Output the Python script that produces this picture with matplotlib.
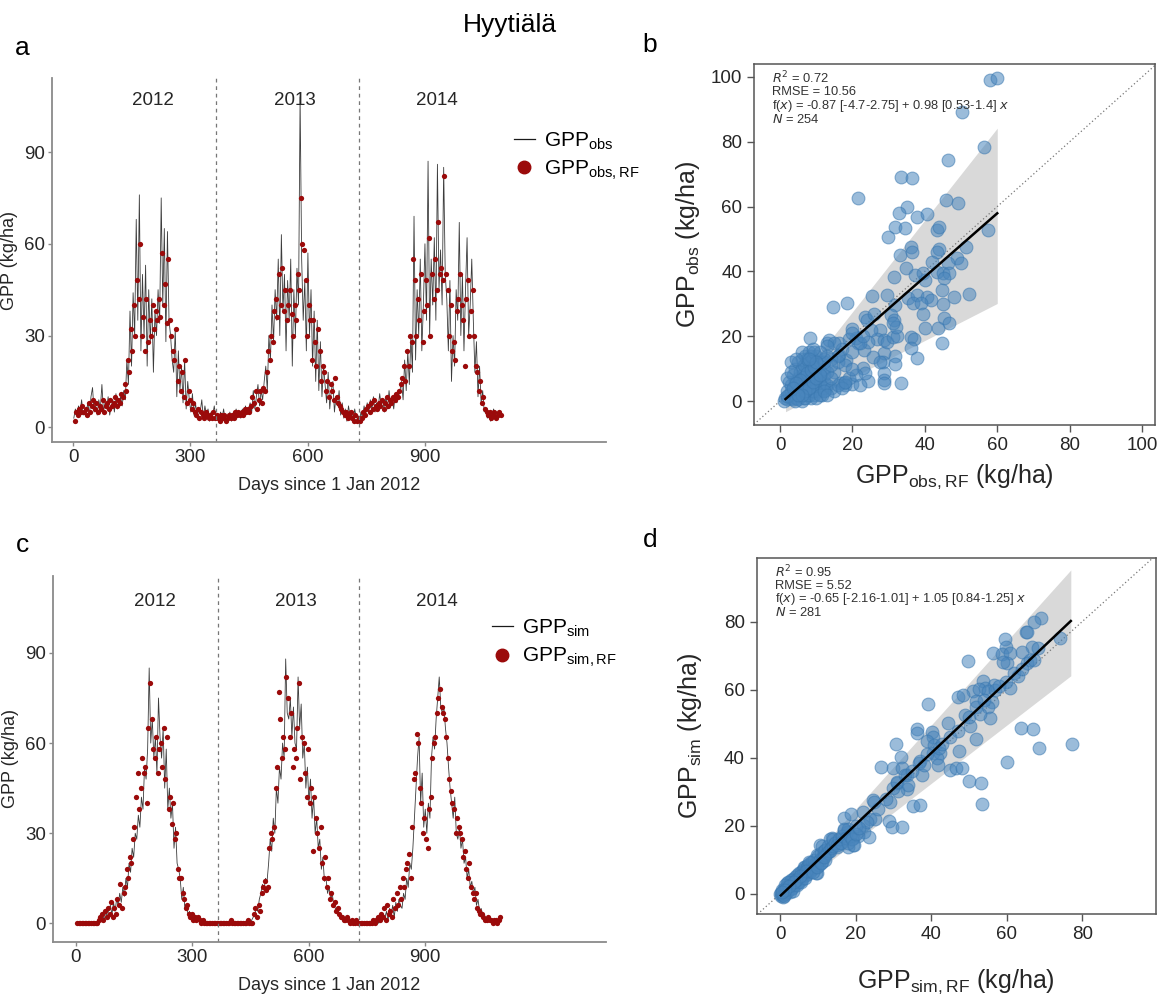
import numpy as np
import matplotlib
matplotlib.use("Agg")
import matplotlib.pyplot as plt
from matplotlib.lines import Line2D

plt.rcParams['font.family'] = ['Liberation Sans', 'DejaVu Sans']
plt.rcParams['mathtext.default'] = 'regular'

# ---------------- data ----------------
# daily series sampled every 4 days (line) and offset by 2 days (RF dots)
gpp_obs = [3, 6, 4, 7, 5, 9, 4, 6, 5, 8, 4, 10, 13, 5, 7, 4, 9, 6, 14, 5, 8, 6, 10, 4, 7, 9, 5, 11, 6, 8, 10,
           7, 12, 9, 22, 14, 38, 20, 44, 30, 68,
           35, 76, 25, 50, 30, 53, 20, 45, 28, 42, 18, 38, 30,
           45, 34, 75, 40, 65, 28, 64, 35, 30, 22, 18, 32, 10,
           25, 12, 20, 8, 22, 6, 15, 9, 5, 11,
           4, 8, 3, 6, 5, 9, 3, 7, 4, 6, 2, 5, 4, 7, 3,
           4, 2, 5, 3, 6, 2, 4, 3, 5, 2, 4, 3, 6, 4, 5, 3, 6, 4, 7, 5, 6,
           8, 5, 12, 6, 10, 14, 7, 12, 9, 15,
           20, 12, 30, 22, 40, 28, 45, 35,
           55, 30, 63, 38, 50, 25, 48, 35, 55, 20,
           45, 30, 52, 40, 108,
           55, 35, 48, 25, 57, 30, 45,
           20, 38, 15, 35, 12, 28, 10, 20,
           14, 8, 18, 6, 12, 15, 5, 10, 7, 12,
           4, 8, 3, 6, 2, 7, 4, 5, 2, 6, 3, 4,
           2, 5, 3, 7, 4, 8, 5, 9, 6, 10, 5, 8, 6, 11, 7, 9, 5, 10, 6, 12, 7, 9, 6, 11, 8, 10, 12,
           15, 9, 22, 12, 25, 14, 30, 18,
           69, 22, 45, 30, 55, 25, 40, 60,
           35, 87, 30, 55, 40, 62, 35, 86, 45, 58, 40,
           85, 50, 42, 25, 48, 15, 30, 20, 45, 35,
           67, 30, 50, 25, 45, 62, 30, 40, 55,
           35, 18, 28, 10, 20, 8, 12, 5,
           6, 3, 5, 2, 4, 6, 3, 5, 4, 5]

gpp_obs_rf = [2, 5, 4, 6, 5, 7, 5, 6, 4, 8, 5, 7, 9, 6, 8, 5, 7, 6, 9, 5, 7, 8, 6, 9, 7, 8, 10, 7, 9, 8, 11,
              10, 14, 12, 22, 18, 32, 25, 40, 30, 48,
              42, 60, 30, 36, 25, 42, 28, 35, 30, 40, 32, 38, 35,
              42, 36, 57, 40, 47, 34, 55, 35, 30, 25, 22, 32, 15,
              20, 12, 18, 10, 22, 8, 12, 9, 6, 8,
              5, 4, 6, 3, 5, 4, 3, 5, 4, 3, 4, 3, 5, 3, 4,
              3, 2, 4, 3, 4, 2, 3, 4, 3, 4, 3, 5, 4, 5, 4, 5, 4, 6, 5, 6, 5,
              7, 10, 8, 12, 6, 9, 12, 8, 13, 12,
              18, 25, 22, 30, 28, 38, 42, 36,
              50, 40, 52, 38, 45, 35, 40, 45, 37, 30,
              40, 35, 50, 45, 75,
              60, 58, 48, 30, 40, 35, 22,
              35, 28, 20, 32, 25, 15, 20, 18,
              12, 15, 10, 14, 12, 9, 16, 10, 8, 7,
              6, 5, 4, 5, 3, 4, 5, 3, 2, 4, 2, 3,
              2, 3, 5, 4, 6, 7, 5, 8, 6, 9, 7, 6, 8, 7, 9, 6, 8, 10, 7, 9, 8, 10, 9, 11, 10, 12, 14,
              16, 20, 15, 25, 20, 30, 28, 55,
              48, 30, 42, 35, 50, 28, 38, 48,
              40, 62, 30, 50, 42, 55, 45, 67, 50, 52, 48,
              82, 50, 45, 30, 40, 25, 28, 22, 38, 42,
              50, 40, 35, 20, 42, 48, 30, 38, 45,
              30, 20, 18, 12, 15, 8, 10, 6,
              5, 4, 5, 3, 4, 5, 3, 4, 5, 4]

gpp_sim = [0, 0, 0, 0, 0, 0, 0, 0, 0, 0, 0, 0, 0, 0, 0.5, 1, 2, 3, 1, 4, 2, 5, 6, 3, 7, 4, 8, 6, 10, 7, 12,
           9, 15, 12, 20, 17, 25, 22, 30, 28, 36,
           32, 42, 38, 52, 48, 58, 85, 60, 68, 55, 62, 50, 75,
           62, 55, 65, 45, 58, 38, 45, 35, 40, 25, 32, 20, 18,
           15, 8, 12, 5, 6, 3, 4, 2, 2, 1,
           1, 2, 1, 1, 0, 1, 0, 0, 0, 0, 0, 0, 0, 0, 0,
           0, 0, 0, 0, 0, 0, 0, 0, 0, 0.5, 0, 0, 0, 0, 0, 0, 0, 0.5, 0, 0, 0.5,
           1, 2, 3, 5, 4, 8, 10, 13, 11, 15,
           14, 20, 28, 24, 35, 30, 45, 40,
           52, 48, 60, 55, 88, 70, 68, 75, 62, 72,
           60, 58, 82, 65, 73,
           55, 60, 45, 52, 40, 48, 35,
           42, 30, 35, 25, 28, 18, 22, 14,
           15, 10, 12, 8, 10, 6, 5, 4, 3, 3,
           2, 2, 1, 2, 1, 1, 0, 1, 0, 1, 0, 0,
           0, 0, 0, 0, 0, 0, 0, 0, 0, 0, 0, 1, 0, 2, 1, 3, 2, 4, 1, 5, 3, 6, 2, 7, 4, 8, 6,
           5, 10, 8, 15, 12, 20, 18, 25,
           35, 45, 55, 62, 40, 50, 32, 38,
           30, 40, 35, 55, 62, 58, 68, 75, 82, 72, 70,
           72, 65, 60, 52, 45, 40, 35, 42, 30, 28,
           32, 25, 28, 20, 22, 15, 18, 12, 14,
           10, 12, 6, 8, 4, 5, 3, 2,
           2, 1, 2, 1, 1, 0, 1, 0, 0, 1]

gpp_sim_rf = [0, 0, 0, 0, 0, 0, 0, 0, 0, 0, 0, 0, 0, 0, 1, 2, 3, 1, 4, 2, 5, 3, 7, 2, 5, 3, 8, 6, 13, 5, 10,
              12, 18, 15, 22, 20, 28, 32, 42, 50, 38,
              45, 55, 50, 52, 40, 65, 80, 68, 58, 55, 62, 50, 58,
              60, 52, 65, 48, 62, 38, 42, 33, 40, 28, 30, 18, 15,
              15, 10, 8, 5, 6, 3, 2, 3, 1, 2,
              1, 2, 1, 0, 1, 0, 0, 0, 0, 0, 0, 0, 0, 0, 0,
              0, 0, 0, 0, 0, 0, 0, 1, 0, 0, 0, 0, 0, 0, 0, 0, 0, 0, 1, 0, 0,
              0, 3, 5, 2, 6, 4, 10, 12, 14, 11,
              12, 25, 30, 28, 32, 45, 52, 77,
              68, 55, 62, 58, 82, 75, 62, 70, 52, 58,
              55, 65, 80, 48, 62,
              60, 50, 42, 58, 40, 45, 24,
              42, 35, 30, 25, 32, 20, 15, 22,
              12, 15, 8, 10, 6, 7, 4, 5, 3, 2,
              2, 1, 1, 2, 1, 0, 1, 0, 0, 1, 0, 0,
              0, 0, 0, 0, 0, 0, 0, 0, 1, 0, 1, 2, 1, 3, 2, 5, 1, 6, 3, 4, 2, 8, 5, 10, 6, 12, 8,
              15, 12, 18, 20, 23, 15, 32, 48,
              50, 63, 60, 45, 40, 30, 35, 28,
              25, 38, 42, 55, 60, 62, 70, 75, 78, 72, 70,
              68, 62, 55, 48, 44, 40, 38, 30, 35, 32,
              30, 28, 22, 24, 18, 15, 20, 12, 10,
              8, 10, 5, 4, 3, 3, 2, 1,
              1, 2, 1, 1, 0, 1, 1, 0, 1, 2]

line_days = np.arange(1, 1 + 4 * len(gpp_obs), 4)
dot_days = np.arange(3, 3 + 4 * len(gpp_obs_rf), 4)

year_labels = ['2012', '2013', '2014']
year_label_days = [204, 568, 932]
year_breaks = [366, 731]

# scatter b: (GPP_obs,RF, GPP_obs)
b_points = [
    (58.0, 99.1), (59.9, 99.8), (50.2, 89.3), (56.4, 78.3), (46.3, 74.4), (33.4, 69.2), (36.4, 68.7),
    (21.6, 62.6), (45.9, 62.0), (49.1, 61.0), (35.2, 60.0), (32.9, 57.9), (37.7, 56.9), (40.5, 57.7),
    (31.8, 53.8), (34.5, 53.3), (43.4, 52.8), (44.0, 53.8), (57.4, 52.8), (29.9, 50.7), (33.1, 45.1),
    (36.1, 47.4), (36.4, 46.1), (44.0, 46.8), (43.4, 46.1), (51.4, 47.6), (48.8, 44.0), (46.5, 42.5),
    (49.9, 42.5), (41.9, 43.0), (34.7, 40.9), (37.3, 38.9), (39.6, 39.4), (40.0, 37.3), (43.3, 39.9),
    (45.1, 39.4), (46.8, 39.4), (45.3, 37.9), (31.5, 38.4), (29.5, 32.7), (25.3, 32.5), (35.4, 31.7),
    (37.8, 32.7), (40.5, 32.2), (41.7, 31.2), (44.7, 34.3), (45.1, 29.9), (48.1, 32.2), (52.3, 33.0),
    (31.8, 29.6), (36.8, 30.1), (38.9, 30.1), (14.7, 29.1), (18.4, 30.1), (39.4, 26.9), (30.6, 26.5),
    (31.5, 25.0), (23.5, 26.0), (45.3, 25.5), (46.8, 24.2), (43.7, 22.4), (40.0, 22.4), (36.1, 19.9),
    (37.0, 19.0), (44.7, 17.8), (36.1, 16.5), (37.7, 13.4), (31.8, 13.9), (31.8, 11.5), (28.7, 14.7),
    (28.4, 12.1), (28.7, 8.5), (28.7, 6.5), (28.8, 5.5), (33.4, 5.5), (24.2, 6.2), (22.8, 10.1),
    (23.5, 8.7), (19.9, 5.1), (17.7, 5.5), (16.6, 5.5), (12.4, 3.4), (27.6, 21.9), (26.9, 19.0),
    (28.7, 18.8), (29.5, 18.3), (31.3, 19.9), (32.2, 20.1), (31.9, 22.9), (31.3, 24.0), (23.3, 15.7),
    (24.2, 18.1), (21.6, 17.8), (21.0, 19.3), (19.9, 22.1), (25.8, 13.7), (27.6, 12.1), (18.1, 12.7),
    (16.4, 17.8), (16.4, 14.2), (12.9, 17.8), (8.3, 19.3), (13.6, 18.8),
    (15, 9), (16, 12), (17, 16), (18, 11), (19, 19), (20, 21), (22, 18), (24, 25), (25, 22), (19, 7),
    (21, 8), (14, 13), (16, 14), (20, 15), (23, 20), (26, 27), (22, 5), (18, 5), (20, 10), (15, 18),
    (1.5, 1), (2, 0.5), (2.5, 2), (3, 1), (3, 3), (3.5, 0.5), (4, 2), (4, 4), (4, 6), (4.5, 1), (5, 3),
    (5, 5), (5, 7), (5, 12), (5.5, 2), (6, 4), (6, 6), (6, 8), (6, 10), (6, 13), (6.5, 1), (6.5, 3),
    (7, 5), (7, 7), (7, 9), (7, 11), (7, 14), (7.5, 2), (7.5, 4), (8, 6), (8, 8), (8, 10), (8, 12),
    (8, 15), (8.5, 3), (8.5, 1), (9, 5), (9, 7), (9, 9), (9, 11), (9, 13), (9.5, 2), (10, 4), (10, 6),
    (10, 8), (10, 10), (10, 14), (10.5, 3), (11, 5), (11, 7), (11, 9), (11, 12), (11.5, 2), (12, 4),
    (12, 6), (12, 8), (12, 10), (12, 13), (13, 5), (13, 9), (13, 17), (14, 11), (14, 4), (15, 3),
    (16, 5), (17, 4), (18, 6), (14, 7), (3, 5), (3.5, 8), (4, 10), (3, 12), (2.5, 6), (2, 3), (5.5, 9),
    (6.5, 11), (7.5, 13), (8.5, 14), (9.5, 15), (6, 15), (4.5, 13), (2, 7), (3, 9), (5, 0.5), (6, 0),
    (7, 1), (8, 2), (9, 3), (10, 1), (11, 2), (12, 3), (13, 2), (1, 0), (2, 1.5), (4, 0), (6.5, 7.5),
    (7.5, 8.5), (8.5, 9.5), (9.5, 10.5), (5.5, 6.5), (4.5, 5.5), (3.5, 4), (7, 3), (8, 4), (9, 6),
    (10, 7), (11, 8), (6, 2), (5, 2), (12, 12), (13, 14), (11, 15), (10, 12), (9, 16), (8, 13)]

# scatter d: (GPP_sim,RF, GPP_sim)
d_points = [
    (69.2, 81.2), (67.2, 80.0), (65.1, 77.1), (65.3, 76.9), (74.1, 75.1), (59.5, 74.9), (66.8, 72.7),
    (59.8, 72.7), (68.4, 72.2), (56.4, 70.7), (58.9, 70.4), (60.8, 70.7), (64.2, 71.0), (60.0, 67.8),
    (59.1, 68.1), (65.5, 67.8), (66.1, 68.8), (67.3, 68.8), (49.8, 68.3), (56.7, 61.4), (53.8, 62.6),
    (51.2, 59.7), (54.2, 60.4), (52.7, 60.2), (55.1, 59.5), (59.8, 62.4), (60.8, 60.4), (47.0, 58.0),
    (48.5, 58.5), (52.0, 56.7), (56.0, 56.5), (55.1, 55.0), (55.6, 51.8), (49.0, 52.6), (50.3, 49.4),
    (39.2, 55.7), (44.4, 50.3), (36.2, 48.4), (36.3, 47.2), (40.2, 47.7), (40.6, 46.2), (38.8, 44.8),
    (40.8, 43.8), (40.4, 41.3), (42.3, 41.3), (47.4, 42.0), (51.9, 45.4), (63.7, 48.8), (67.0, 48.6),
    (68.5, 43.0), (77.2, 44.1), (60.2, 38.7), (30.7, 44.0), (32.0, 40.1), (29.8, 37.1), (26.7, 37.4),
    (32.2, 36.9), (33.5, 35.0), (36.9, 38.6), (37.7, 35.0), (41.5, 40.0), (41.9, 37.9), (45.1, 36.4),
    (46.6, 36.9), (48.2, 36.9), (50.1, 33.2), (53.1, 32.7), (53.4, 26.3), (30.9, 32.5), (33.5, 30.8),
    (31.1, 30.1), (35.3, 25.7), (37.0, 26.2), (24.7, 27.6), (29.1, 27.1), (28.9, 21.3), (29.7, 19.8),
    (32.2, 19.8), (23.8, 22.0), (25.1, 22.0), (16.8, 22.4), (18.7, 23.4), (21.9, 20.1), (22.3, 18.3),
    (23.6, 16.6), (17.8, 18.1), (16.8, 18.8), (19.4, 16.4), (20.7, 17.1), (19.4, 14.4), (18.0, 13.9),
    (15.9, 15.1), (13.7, 16.4), (15.0, 13.9), (13.1, 12.6), (10.6, 14.4), (11.9, 11.9), (9.7, 11.5),
    (7.9, 8.5), (9.7, 6.1),
    (16, 16), (18, 19), (20, 20), (22, 24), (23, 21), (25, 27), (26, 25), (28, 28), (30, 31), (31, 33),
    (33, 35), (34, 32), (35, 36), (37, 39), (38, 38), (39, 41), (42, 43), (43, 44), (45, 46), (47, 48),
    (50, 52), (52, 55), (53, 53), (54, 57), (57, 60), (58, 61), (62, 65), (63, 64), (64, 66),
    (0, 0), (0.2, -0.5), (0.5, 0), (0.5, 1), (0.8, -0.8), (1, 0.5), (1, 1.5), (1.2, 0), (1.5, 1),
    (1.5, 2), (1.8, 0.5), (2, 1.5), (2, 2.5), (2.2, 1), (2.5, 2), (2.5, 3.5), (2.8, 1.5), (3, 2.5),
    (3, 3.5), (3.2, 1.8), (3.5, 3), (3.5, 4.5), (3.8, 2.5), (4, 3.5), (4, 5), (4.2, 2.8), (4.5, 4),
    (4.5, 5.5), (4.8, 3.5), (5, 4.5), (5, 6), (5.2, 3.8), (5.5, 5), (5.5, 6.5), (5.8, 4.5), (6, 5.5),
    (6, 7), (6.2, 7.8), (6.5, 6), (6.5, 8), (6.8, 5.5), (7, 6.5), (7, 8), (7.2, 5.8), (7.5, 7),
    (7.5, 8.5), (7.8, 6.5), (8, 7.5), (8, 9), (8.2, 7), (8.5, 8), (8.5, 9.5), (8.8, 7.5), (9, 8.5),
    (9, 10), (9.3, 7.8), (9.5, 6), (9.6, 9), (10, 9.5), (10, 11), (10.3, 8.5), (10.5, 10), (10.8, 12),
    (11, 9.5), (11, 14), (11.3, 11), (11.5, 12.5), (11.8, 10), (12, 11.5), (12, 13), (12.5, 12),
    (12.8, 14), (13, 12.5), (13.2, 16), (13.5, 13.5), (14, 14), (14, 16), (14.5, 15), (15, 14.5),
    (15.5, 16), (16, 15), (16.5, 17), (17, 19), (17.5, 16.5), (18, 15), (18.5, 17), (19, 16),
    (19.5, 14.5), (20, 17.5), (21, 19.5), (1.8, 3.2), (2.6, 0.5), (3.4, 0.8), (0.3, 0.3), (0.7, -0.3),
    (1.1, -0.6), (4.6, 2.5), (5.6, 3.5), (6.6, 4.8), (7.6, 9.5), (3, 4.2), (2, 3.6), (1.4, 2.6),
    (6.8, 6.8), (8.6, 6.5), (9.8, 8), (10.8, 9), (11.6, 10.8), (4.2, 4.2), (5.2, 5.2), (3.6, 3.6),
    (2.4, 2.4), (1.2, 1.2), (0.6, 0.6)]

# regression fits and confidence bands
b_fit = (-0.87, 0.98)
b_fit_x = [1.5, 60]
b_band_x = [1.5, 60]
b_band_lo = [-3.3, 30.1]
b_band_hi = [1.3, 84.2]
b_stats = ['$\\it{R}^2$ = 0.72', 'RMSE = 10.56',
           'f($\\it{x}$) = -0.87 [-4.7-2.75] + 0.98 [0.53-1.4] $\\it{x}$', '$\\it{N}$ = 254']

d_fit = (-0.65, 1.05)
d_fit_x = [0.2, 77]
d_band_x = [0.2, 77]
d_band_lo = [-1.6, 64.1]
d_band_hi = [0.5, 95.2]
d_stats = ['$\\it{R}^2$ = 0.95', 'RMSE = 5.52',
           'f($\\it{x}$) = -0.65 [-2.16-1.01] + 1.05 [0.84-1.25] $\\it{x}$', '$\\it{N}$ = 281']

line_col = '#1a1a1a'
dot_col = '#9b0a0a'
pt_col = '#4a86bd'
axis_col = '#8a8a8a'
text_col = '#262626'

fig = plt.figure(figsize=(11.73, 10), dpi=100)


def ts_panel(rect, ylim, xlim, line_vals, dot_vals, lab_line, lab_dot, leg_xy):
    ax = fig.add_axes(rect)
    ax.plot(line_days, line_vals, color=line_col, lw=0.6, alpha=0.85, label=lab_line)
    ax.plot(dot_days, dot_vals, 'o', color=dot_col, ms=3.8, mew=0, label=lab_dot)
    for d in year_breaks:
        ax.axvline(d, color='#777777', lw=0.9, ls=(0, (3, 3)))
    for lab, d in zip(year_labels, year_label_days):
        ax.text(d, 107, lab, ha='center', va='center', fontsize=13.5, color=text_col)
    ax.set_xlim(*xlim)
    ax.set_ylim(*ylim)
    ax.set_xticks([0, 300, 600, 900])
    ax.set_yticks([0, 30, 60, 90])
    for s in ['top', 'right']:
        ax.spines[s].set_visible(False)
    for s in ['left', 'bottom']:
        ax.spines[s].set_color(axis_col)
        ax.spines[s].set_linewidth(1.3)
    ax.tick_params(colors=axis_col, labelcolor=text_col, labelsize=13.5, length=3, width=1, pad=2)
    ax.set_xlabel('Days since 1 Jan 2012', fontsize=13, color=text_col, labelpad=8)
    ax.set_ylabel('GPP (kg/ha)', fontsize=13, color=text_col)
    ax.yaxis.set_label_coords(-0.062, 0.5)
    handles = [Line2D([], [], color=line_col, lw=0.9),
               Line2D([], [], marker='o', ls='', color=dot_col, ms=9)]
    ax.legend(handles, [lab_line, lab_dot], loc='upper left', frameon=False,
              bbox_to_anchor=leg_xy, fontsize=15, handlelength=1.0,
              handletextpad=0.45, labelspacing=0.35, borderpad=0)
    return ax


ts_panel([0.0443, 0.558, 0.4723, 0.364], (-4.8, 114.2), (-55, 1365), gpp_obs, gpp_obs_rf,
         'GPP$_{obs}$', 'GPP$_{obs,RF}$', (0.815, 0.885))
ts_panel([0.0452, 0.058, 0.4714, 0.366], (-6.2, 115.6), (-59, 1367), gpp_sim, gpp_sim_rf,
         'GPP$_{sim}$', 'GPP$_{sim,RF}$', (0.775, 0.915))


def sc_panel(rect, lim, ticks, pts, fit, fit_x, bx, blo, bhi, stats, xlab, ylab, xlab_y, ypad):
    ax = fig.add_axes(rect)
    pts = np.array(pts, dtype=float)
    ax.fill_between(bx, blo, bhi, color='#d9d9d9', lw=0, zorder=1)
    ax.axline((0, 0), slope=1, color='#777777', lw=0.9, ls=(0, (1, 2)), zorder=2)
    ax.scatter(pts[:, 0], pts[:, 1], s=85, color=pt_col, alpha=0.55,
               edgecolors='#3a78b0', linewidths=0.8, zorder=3)
    fx = np.array(fit_x)
    ax.plot(fx, fit[0] + fit[1] * fx, color='black', lw=1.8, zorder=4)
    ax.set_xlim(*lim[0])
    ax.set_ylim(*lim[1])
    ax.set_xticks(ticks)
    ax.set_yticks(ticks)
    for s in ax.spines.values():
        s.set_color('#555555')
        s.set_linewidth(1.1)
    ax.tick_params(colors='#555555', labelcolor=text_col, labelsize=13.5, length=5, width=1)
    ax.set_xlabel(xlab, fontsize=18, color=text_col)
    ax.xaxis.set_label_coords(0.5, xlab_y)
    ax.set_ylabel(ylab, fontsize=18, color=text_col, labelpad=ypad)
    ys = [0.961, 0.922, 0.884, 0.845]
    for t, y in zip(stats, ys):
        ax.text(0.045, y, t, transform=ax.transAxes, fontsize=9.3, color='#333333',
                ha='left', va='center')
    return ax


sc_panel([0.6428, 0.575, 0.3419, 0.361], ((-7.2, 103.6), (-7.4, 104)), [0, 20, 40, 60, 80, 100],
         b_points, b_fit, b_fit_x, b_band_x, b_band_lo, b_band_hi, b_stats,
         'GPP$_{obs,RF}$ (kg/ha)', 'GPP$_{obs}$ (kg/ha)', -0.105, 6)
sc_panel([0.6451, 0.0857, 0.3402, 0.3566], ((-6.2, 99.5), (-6.0, 98.8)), [0, 20, 40, 60, 80],
         d_points, d_fit, d_fit_x, d_band_x, d_band_lo, d_band_hi, d_stats,
         'GPP$_{sim,RF}$ (kg/ha)', 'GPP$_{sim}$ (kg/ha)', -0.15, 14)

fig.text(0.435, 0.975, 'Hyytiälä', fontsize=19, ha='center', va='center', color='black')
for lab, x, y in [('a', 0.019, 0.952), ('b', 0.554, 0.955), ('c', 0.019, 0.455), ('d', 0.554, 0.46)]:
    fig.text(x, y, lab, fontsize=19, ha='center', va='center', color='black')

fig.savefig('out.png', dpi=100)
